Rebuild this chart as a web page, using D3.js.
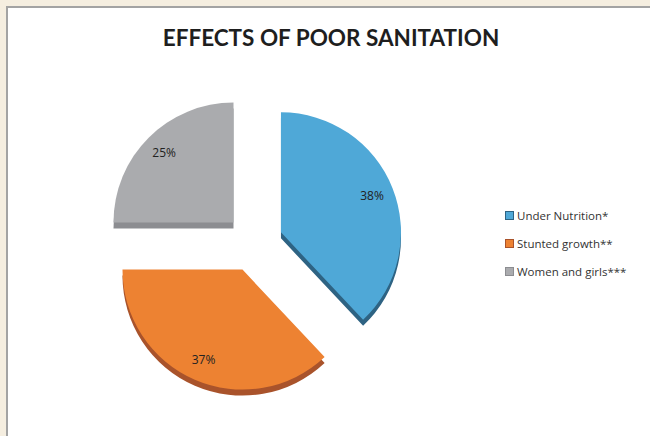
<!DOCTYPE html>
<html>
<head>
<meta charset="utf-8">
<script src="https://cdn.jsdelivr.net/npm/d3@7"></script>
<style>
  html, body { margin: 0; padding: 0; background: #f5eee0; }
  svg { display: block; }
</style>
</head>
<body>
<div id="chart"></div>
<script>
const categories = ['Under Nutrition*', 'Stunted growth**', 'Women and girls***'];
const values = [38, 37, 25];
const labels = ['38%', '37%', '25%'];
const colors = ['#4fa8d7', '#ed8232', '#aaabae'];
const sideColors = ['#2e6383', '#a9532b', '#8c8d91'];

const width = 650, height = 436;
const cx = 254, cy = 243, radius = 120, explode = 29, depth = 6;

const svg = d3.select('#chart').append('svg')
  .attr('width', width)
  .attr('height', height);

// chart frame
svg.append('rect')
  .attr('x', 7).attr('y', 7)
  .attr('width', width).attr('height', height)
  .attr('fill', '#fff')
  .attr('stroke', '#a3a3a3')
  .attr('stroke-width', 2);

svg.append('text')
  .attr('x', 331).attr('y', 46)
  .attr('text-anchor', 'middle')
  .attr('font-family', 'Lato, "Open Sans", sans-serif')
  .attr('font-weight', 'bold')
  .attr('font-size', 22.5)
  .attr('fill', '#1e1e1e')
  .text('EFFECTS OF POOR SANITATION');

const pie = d3.pie().value(d => d).sort(null);
const arcs = pie(values);
const arc = d3.arc().innerRadius(0).outerRadius(radius);

const offset = d => {
  const a = (d.startAngle + d.endAngle) / 2;
  return [cx + explode * Math.sin(a), cy - explode * Math.cos(a)];
};

const g = svg.append('g');

// side (thickness) first
g.selectAll('path.side')
  .data(arcs)
  .enter()
  .append('path')
  .attr('class', 'side')
  .attr('transform', d => { const [x, y] = offset(d); return `translate(${x},${y + depth})`; })
  .attr('fill', (d, i) => sideColors[i])
  .attr('d', arc);

g.selectAll('path.top')
  .data(arcs)
  .enter()
  .append('path')
  .attr('class', 'top')
  .attr('transform', d => { const [x, y] = offset(d); return `translate(${x},${y})`; })
  .attr('fill', (d, i) => colors[i])
  .attr('d', arc);

const labelArc = d3.arc().innerRadius(98).outerRadius(98);
g.selectAll('text.pct')
  .data(arcs)
  .enter()
  .append('text')
  .attr('class', 'pct')
  .attr('transform', d => {
    const [x, y] = offset(d), c = labelArc.centroid(d);
    return `translate(${x + c[0]},${y + c[1]})`;
  })
  .attr('text-anchor', 'middle')
  .attr('dy', '0.35em')
  .attr('font-family', '"Open Sans", sans-serif')
  .attr('font-size', 12)
  .attr('fill', '#222')
  .text((d, i) => labels[i]);

const legend = svg.append('g').attr('transform', 'translate(505,211)');
const item = legend.selectAll('g')
  .data(categories)
  .enter()
  .append('g')
  .attr('transform', (d, i) => `translate(0,${i * 28})`);

item.append('rect')
  .attr('x', 0.5).attr('y', 0.5)
  .attr('width', 8).attr('height', 8)
  .attr('fill', (d, i) => colors[i])
  .attr('stroke', (d, i) => sideColors[i]);

item.append('text')
  .attr('x', 12).attr('y', 5)
  .attr('dy', '0.35em')
  .attr('font-family', '"Open Sans", sans-serif')
  .attr('font-size', 11.5)
  .attr('fill', '#333')
  .text(d => d);
</script>
</body>
</html>
